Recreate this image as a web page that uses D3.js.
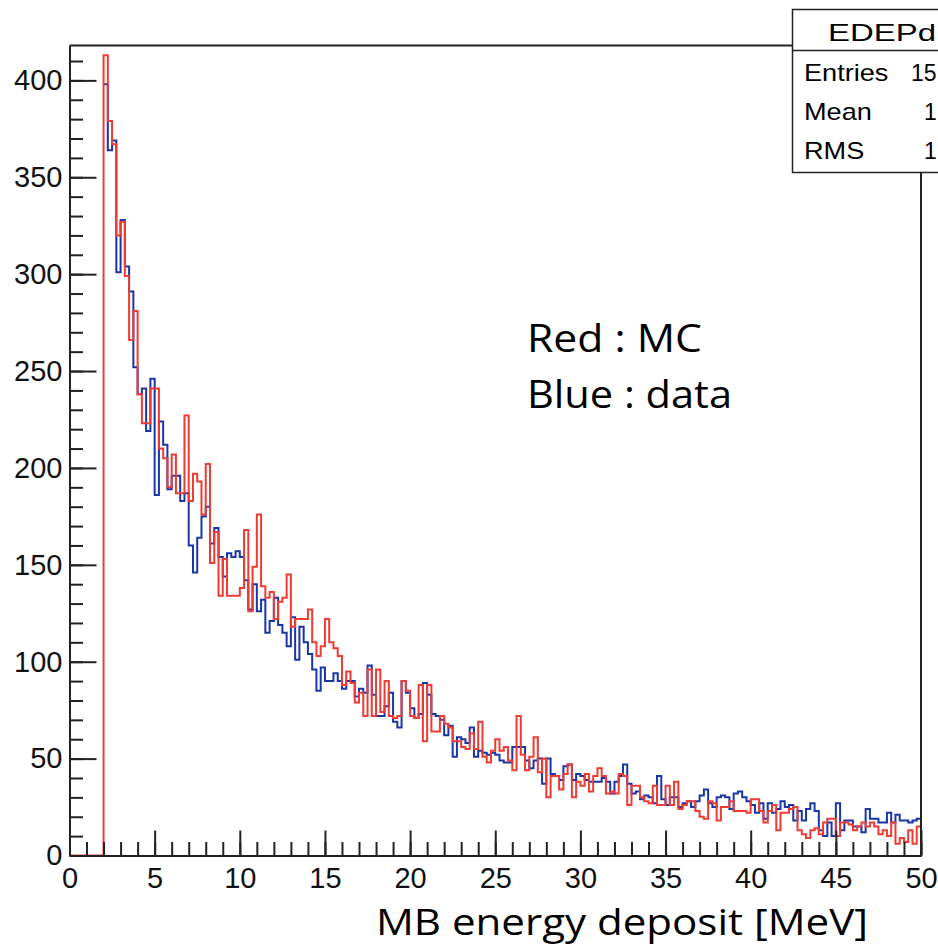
<!DOCTYPE html>
<html>
<head>
<meta charset="utf-8">
<script src="https://cdn.jsdelivr.net/npm/d3@7/dist/d3.min.js"></script>
<style>
  html, body { margin: 0; padding: 0; background: #fff; }
  svg { display: block; }
</style>
</head>
<body>
<svg id="chart"></svg>
<script>
'use strict';

// histogram binning: 0.25 MeV bins, first filled bin starts at 2 MeV
var binStart = 2.0,
  binWidth = 0.25;

// Red : MC
var mcCounts = [
  413, 379, 367, 320, 327, 299, 266, 281, 238, 223, 223, 241,
  241, 210, 205, 190, 207, 187, 187, 227, 183, 197, 193, 176,
  202, 151, 167, 134, 153, 134, 134, 134, 138, 168, 126, 149,
  176, 139, 133, 136, 122, 131, 133, 145, 118, 122, 122, 122,
  127, 110, 103, 108, 122, 110, 107, 103, 88, 95, 89, 79,
  84, 72, 96, 72, 96, 74, 90, 72, 71, 72, 90, 85,
  72, 71, 88, 59, 88, 64, 64, 72, 68, 66, 59, 59,
  56, 55, 63, 55, 69, 51, 48, 54, 60, 54, 56, 49,
  44, 72, 52, 44, 51, 61, 43, 50, 30, 41, 41, 34,
  42, 47, 30, 38, 36, 42, 33, 41, 45, 41, 32, 33,
  32, 42, 41, 26, 36, 36, 30, 28, 27, 36, 26, 26,
  36, 26, 38, 24, 26, 28, 28, 23, 20, 19, 28, 27,
  18, 25, 25, 28, 23, 23, 23, 22, 29, 29, 23, 17,
  23, 26, 13, 22, 22, 24, 25, 13, 11, 9, 13, 14,
  11, 17, 19, 19, 10, 17, 17, 16, 13, 15, 17, 15,
  17, 15, 11, 13, 10, 17, 6, 9, 7, 13, 6, 15
];

// Blue : data
var dataCounts = [
  398, 364, 369, 301, 328, 304, 291, 252, 238, 241, 219, 246,
  186, 224, 212, 189, 196, 196, 183, 187, 160, 146, 164, 175,
  180, 161, 169, 154, 144, 156, 154, 157, 154, 142, 127, 140,
  126, 132, 115, 121, 133, 119, 115, 108, 123, 101, 118, 110,
  104, 96, 85, 97, 90, 90, 94, 90, 86, 90, 90, 82,
  86, 84, 98, 83, 72, 72, 77, 84, 69, 66, 90, 84,
  76, 71, 73, 89, 83, 73, 72, 70, 62, 67, 51, 61,
  60, 58, 66, 51, 54, 53, 52, 53, 52, 49, 48, 48,
  56, 56, 56, 49, 45, 49, 50, 37, 50, 42, 41, 39,
  46, 47, 39, 42, 41, 39, 38, 38, 38, 40, 38, 32,
  38, 41, 47, 37, 32, 33, 29, 31, 30, 27, 41, 29,
  26, 30, 30, 25, 27, 28, 25, 28, 31, 34, 27, 25,
  30, 31, 30, 24, 32, 33, 30, 28, 26, 22, 27, 19,
  27, 22, 24, 28, 25, 26, 18, 23, 18, 24, 27, 23,
  13, 10, 17, 10, 27, 13, 18, 18, 15, 15, 12, 24,
  19, 19, 17, 17, 22, 17, 21, 18, 18, 17, 18, 19
];

var xTickValues = [0, 5, 10, 15, 20, 25, 30, 35, 40, 45, 50];
var yTickValues = [0, 50, 100, 150, 200, 250, 300, 350, 400];
var histTitle = 'EDEPd';
var statLabels = ['Entries', 'Mean', 'RMS'];
var statValues = ['15', '1', '1'];
var legendLines = ['Red : MC', 'Blue : data'];
var xTitle = 'MB energy deposit [MeV]';

var width = 938,
  height = 945,
  frame = {left: 69.5, right: 921, top: 45.5, bottom: 855.5},
  rootFont = '"Liberation Sans", Arial, Helvetica, sans-serif',
  slideFont = '"Open Sans", "Noto Sans", sans-serif',
  red = '#ee3b33',
  blue = '#1a35a6';

var svg = d3.select('#chart').attr('width', width).attr('height', height);

var x = d3.scaleLinear().domain([0, 50]).range([frame.left, frame.right]);
var y = d3.scaleLinear().domain([0, 418]).range([frame.bottom, frame.top]);

// step outline of a histogram; withBase also draws the empty bins from 0
function stepPoints(counts, withBase) {
  var pts = withBase ? [[0, 0]] : [];
  counts.forEach(function (c, i) {
    pts.push([binStart + i * binWidth, c]);
  });
  pts.push([binStart + counts.length * binWidth, counts[counts.length - 1]]);
  return pts;
}

var histLine = d3.line()
  .x(function (d) { return x(d[0]); })
  .y(function (d) { return y(d[1]); })
  .curve(d3.curveStepAfter);

function drawHist(counts, color, withBase) {
  svg.append('path')
    .datum(stepPoints(counts, withBase))
    .attr('d', histLine)
    .attr('fill', 'none')
    .attr('stroke', color)
    .attr('stroke-width', 2)
    .attr('stroke-linejoin', 'miter');
}

drawHist(dataCounts, blue, false);
drawHist(mcCounts, red, true);

// frame (top and right sides; left and bottom come from the axes)
svg.append('path')
  .attr('d', 'M' + frame.left + ',' + frame.top + 'H' + frame.right + 'V' + frame.bottom)
  .attr('fill', 'none')
  .attr('stroke', '#222')
  .attr('stroke-width', 2);

function styleAxis(g) {
  g.select('.domain').attr('stroke', '#222').attr('stroke-width', 2);
  g.selectAll('.tick line').attr('stroke', '#222').attr('stroke-width', 2);
  g.selectAll('.tick text')
    .attr('font-family', rootFont)
    .attr('font-size', 29)
    .attr('fill', '#111');
}

// x axis: minor ticks every 1 MeV, major every 5
svg.append('g')
  .attr('transform', 'translate(0,' + frame.bottom + ')')
  .call(d3.axisBottom(x).tickValues(d3.range(0, 51, 1)).tickSize(-13.5).tickSizeOuter(0).tickFormat(''))
  .call(styleAxis);

svg.append('g')
  .attr('transform', 'translate(0,' + frame.bottom + ')')
  .call(d3.axisBottom(x).tickValues(xTickValues).tickSize(-25).tickSizeOuter(0).tickPadding(12).tickFormat(d3.format('d')))
  .call(styleAxis);

// y axis: minor ticks every 10, major every 50
svg.append('g')
  .attr('transform', 'translate(' + frame.left + ',0)')
  .call(d3.axisLeft(y).tickValues(d3.range(0, 411, 10)).tickSize(-13.5).tickSizeOuter(0).tickFormat(''))
  .call(styleAxis);

svg.append('g')
  .attr('transform', 'translate(' + frame.left + ',0)')
  .call(d3.axisLeft(y).tickValues(yTickValues).tickSize(-27).tickSizeOuter(0).tickPadding(7).tickFormat(d3.format('d')))
  .call(styleAxis);

// stats box, cut by the right edge of the picture
var stats = svg.append('g');
stats.append('rect')
  .attr('x', 792.5).attr('y', 9.5)
  .attr('width', 200).attr('height', 163)
  .attr('fill', '#fff')
  .attr('stroke', '#222')
  .attr('stroke-width', 1.5);
stats.append('line')
  .attr('x1', 792.5).attr('x2', 992)
  .attr('y1', 50.5).attr('y2', 50.5)
  .attr('stroke', '#222')
  .attr('stroke-width', 1.5);
stats.append('text')
  .attr('x', 828).attr('y', 41)
  .attr('font-family', rootFont)
  .attr('font-size', 24)
  .attr('textLength', 108)
  .attr('lengthAdjust', 'spacingAndGlyphs')
  .text(histTitle);

statLabels.forEach(function (label, i) {
  var base = 81 + i * 39.2;
  stats.append('text')
    .attr('x', 804).attr('y', base)
    .attr('font-family', rootFont)
    .attr('font-size', 23)
    .attr('transform', 'translate(804,0) scale(1.18,1) translate(-804,0)')
    .text(label);
  stats.append('text')
    .attr('x', i === 0 ? 911 : 924).attr('y', base)
    .attr('font-family', rootFont)
    .attr('font-size', 23)
    .text(statValues[i]);
});

// slide annotations
legendLines.forEach(function (t, i) {
  svg.append('text')
    .attr('x', 527).attr('y', 352 + i * 55.5)
    .attr('font-family', slideFont)
    .attr('font-size', 39)
    .attr('textLength', i === 0 ? 175 : 205)
    .attr('lengthAdjust', 'spacingAndGlyphs')
    .attr('fill', '#000')
    .text(t);
});

svg.append('text')
  .attr('x', 376).attr('y', 935)
  .attr('font-family', slideFont)
  .attr('font-size', 37)
  .attr('textLength', 492)
  .attr('lengthAdjust', 'spacingAndGlyphs')
  .attr('fill', '#000')
  .text(xTitle);
</script>
</body>
</html>
